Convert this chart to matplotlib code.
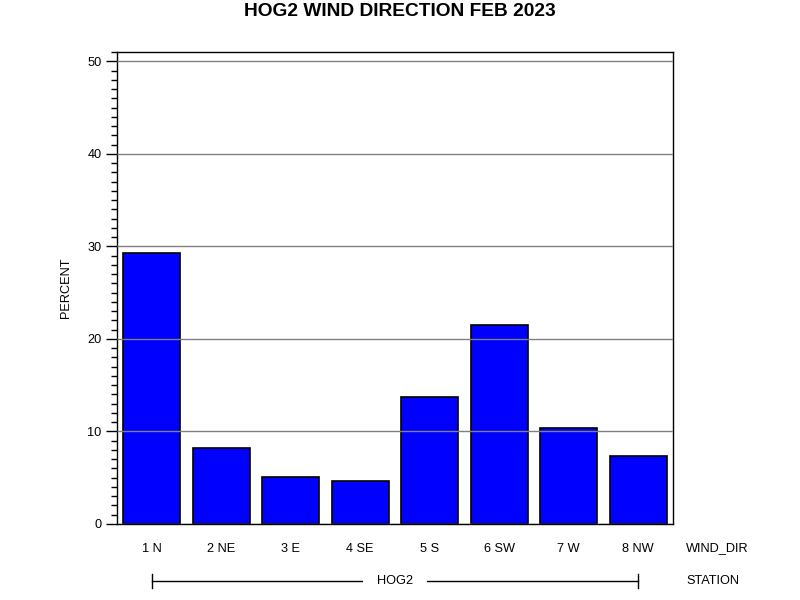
import matplotlib
matplotlib.use("Agg")
import matplotlib.pyplot as plt
from matplotlib.ticker import MultipleLocator
import matplotlib.transforms as mtransforms

# values
directions = ["1 N", "2 NE", "3 E", "4 SE", "5 S", "6 SW", "7 W", "8 NW"]
percent = [29.3, 8.2, 5.1, 4.6, 13.7, 21.5, 10.4, 7.3]
station = "HOG2"

plt.rcParams['font.family'] = ['Liberation Sans', 'DejaVu Sans']
fs = 9.2

fig = plt.figure(figsize=(8, 6), dpi=100)
ax = fig.add_axes([117 / 800, 1 - 524 / 600, 556 / 800, 472 / 600])

x = list(range(len(directions)))
ax.bar(x, percent, width=0.82, color="#0000ff", edgecolor="black",
       linewidth=1.2, zorder=2)

ax.set_xlim(-0.5, len(directions) - 0.5)
ax.set_ylim(0, 51)
ax.yaxis.set_major_locator(MultipleLocator(10))
ax.yaxis.set_minor_locator(MultipleLocator(1))
ax.grid(axis="y", color="gray", linewidth=1, zorder=3)
ax.set_axisbelow(False)

ax.set_xticks(x)
ax.set_xticklabels(directions, fontsize=fs)
ax.tick_params(axis="x", length=0, pad=14)
ax.tick_params(axis="y", which="major", length=8, width=1, labelsize=fs, pad=3)
ax.tick_params(axis="y", which="minor", length=4, width=1)
for s in ax.spines.values():
    s.set_linewidth(1)

ax.set_ylabel("PERCENT", fontsize=fs, labelpad=11)

fig.text(0.5, 1 - 11 / 600, "HOG2 WIND DIRECTION FEB 2023", ha="center", va="center",
         fontsize=13.8, fontweight="bold")

# group axis labels on the right
fig.text(686 / 800, 1 - 548 / 600, "WIND_DIR", ha="left", va="center", fontsize=fs)
fig.text(686 / 800, 1 - 581 / 600, "STATION", ha="left", va="center", fontsize=fs)

# station bracket under the categories
trans = mtransforms.blended_transform_factory(ax.transData, ax.transAxes)
yb = (524 - 581) / 472
tk = 7 / 472
ax.plot([x[0], x[-1]], [yb, yb], color="black", linewidth=1, transform=trans, clip_on=False)
ax.plot([x[0], x[0]], [yb - tk, yb + tk], color="black", linewidth=1, transform=trans, clip_on=False)
ax.plot([x[-1], x[-1]], [yb - tk, yb + tk], color="black", linewidth=1, transform=trans, clip_on=False)
ax.text((x[0] + x[-1]) / 2, yb, station, ha="center", va="center", fontsize=fs,
        transform=trans, clip_on=False,
        bbox=dict(facecolor="white", edgecolor="none", pad=10))

fig.savefig("out.png", dpi=100)
